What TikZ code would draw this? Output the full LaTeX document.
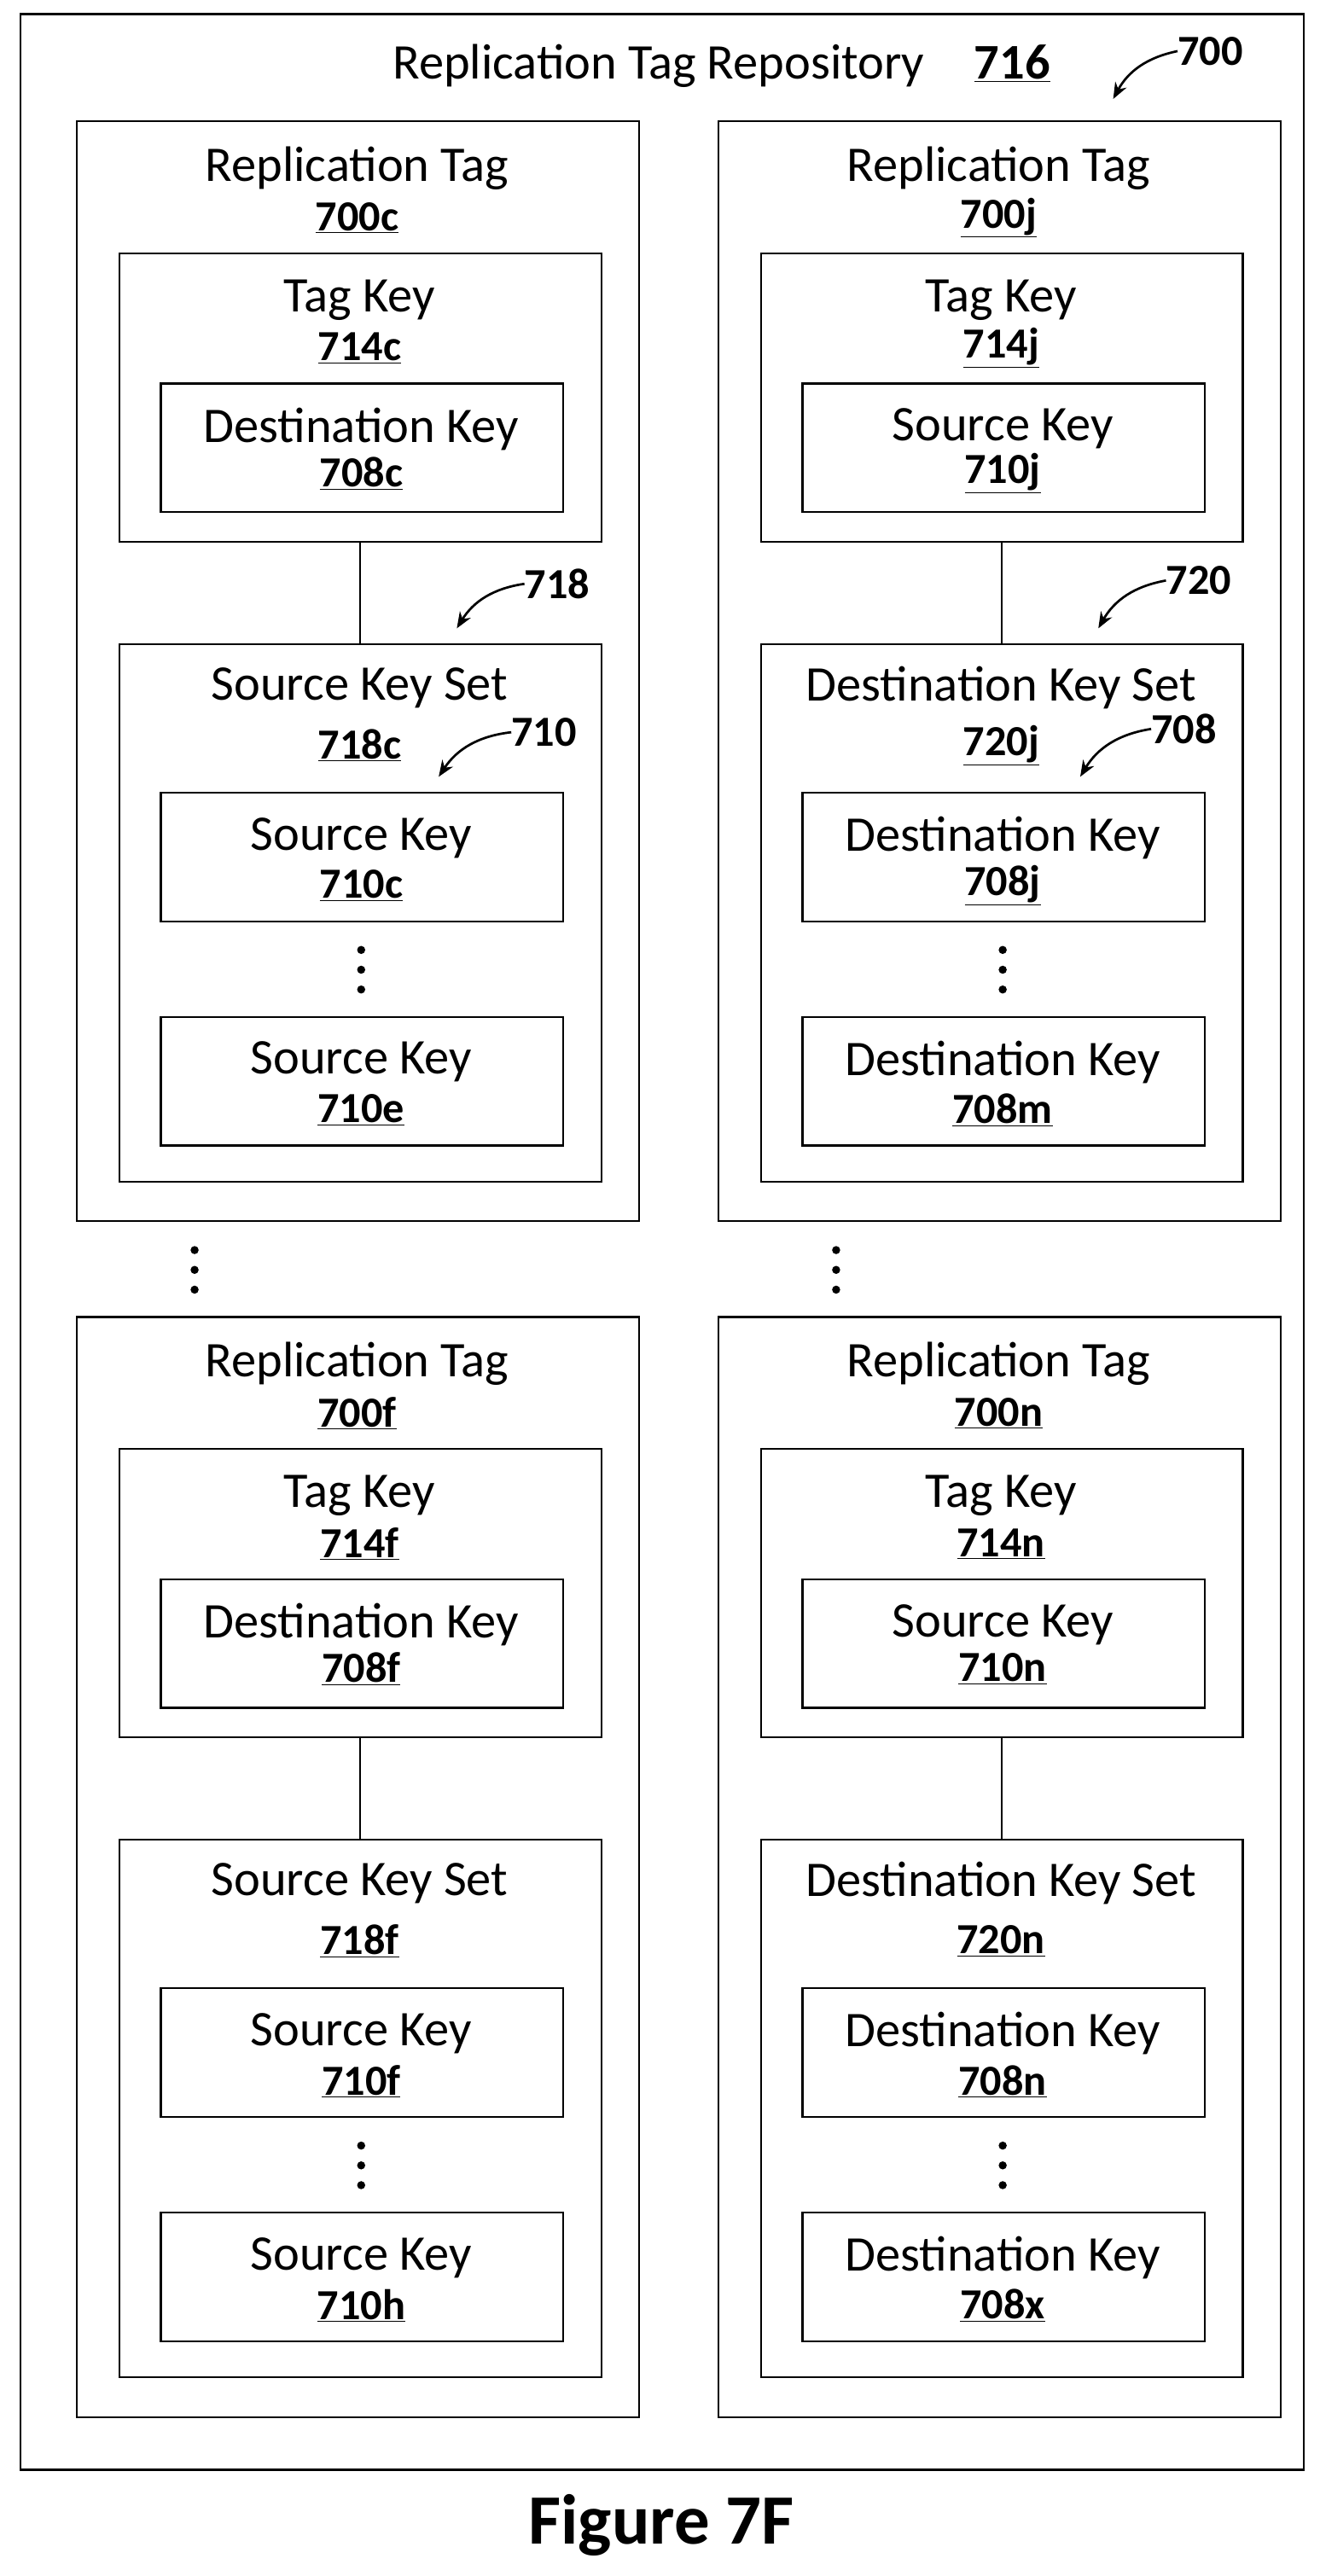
\documentclass[tikz,border=0pt]{standalone}
\usepackage{fontspec}
\setmainfont{Carlito}
\usetikzlibrary{arrows.meta}
\tikzset{
  box/.style={draw,line width=1.6pt,inner sep=0pt},
  txt/.style={font=\fontsize{43}{48}\selectfont,inner sep=0pt},
  num/.style={font=\fontsize{37}{42}\selectfont\bfseries,inner sep=0pt},
  conn/.style={line width=1.4pt},
  callout/.style={line width=2pt,-{Stealth[length=14pt,width=11pt]}},
  dot/.style={fill,circle,inner sep=0pt,minimum size=7pt}
}
\newcommand{\ul}[1]{\underline{#1}}
\newcommand{\tagcol}[9]{%
\begin{scope}[shift={(#1,#2)}]
\node[box,minimum width=341*0.05cm,minimum height=667*0.05cm,anchor=north west] (rt#3) at (46,73) {};
\node[txt] (rtt#3) at (216.5,102) {Replication Tag};
\node[num] (rtn#3) at (216.5,132) {\ul{#4}};
\node[box,minimum width=292*0.05cm,minimum height=175*0.05cm,anchor=north west] (tk#3) at (72,153) {};
\node[txt] (tkt#3) at (218,182) {Tag Key};
\node[num] (tkn#3) at (218,211) {\ul{714\csname sfx#3\endcsname}};
\node[box,minimum width=244*0.05cm,minimum height=78*0.05cm,anchor=north west] (ik#3) at (97,232) {};
\node[txt] (ikt#3) at (219,260) {#5};
\node[num] (ikn#3) at (219,287) {\ul{#6}};
\node[box,minimum width=292*0.05cm,minimum height=326*0.05cm,anchor=north west] (ks#3) at (72,390) {};
\node[txt] (kst#3) at (218,417) {#7};
\node[num] (ksn#3) at (218,452) {\ul{#8}};
\node[box,minimum width=244*0.05cm,minimum height=78*0.05cm,anchor=north west] (ka#3) at (97,480) {};
\node[txt] (kat#3) at (219,508) {#9};
\node[num] (kan#3) at (219,537) {\ul{\csname ia#3\endcsname}};
\node[dot] (da#3) at (219,576) {};
\node[dot] (db#3) at (219,588) {};
\node[dot] (dc#3) at (219,600) {};
\node[box,minimum width=244*0.05cm,minimum height=78*0.05cm,anchor=north west] (kb#3) at (97,616) {};
\node[txt] (kbt#3) at (219,644) {#9};
\node[num] (kbn#3) at (219,673) {\ul{\csname ib#3\endcsname}};
\draw[conn] (tk#3.south) -- (ks#3.north);
\end{scope}}
\def\sfxA{c}\def\iaA{710c}\def\ibA{710e}
\def\sfxB{j}\def\iaB{708j}\def\ibB{708m}
\def\sfxC{f}\def\iaC{710f}\def\ibC{710h}
\def\sfxD{n}\def\iaD{708n}\def\ibD{708x}
\begin{document}
\begin{tikzpicture}[x=0.05cm,y=-0.05cm]
\useasboundingbox (0,0) rectangle (800,1562);
\node[box,minimum width=778*0.05cm,minimum height=1489*0.05cm,anchor=north west] (repo) at (12,8) {};
\node[txt,anchor=west] (repot) at (238,40) {Replication Tag Repository\quad\textbf{\ul{716}}};
\tagcol{0}{0}{A}{700c}{Destination Key}{708c}{Source Key Set}{718c}{Source Key}
\tagcol{389}{0}{B}{700j}{Source Key}{710j}{Destination Key Set}{720j}{Destination Key}
\tagcol{0}{725}{C}{700f}{Destination Key}{708f}{Source Key Set}{718f}{Source Key}
\tagcol{389}{725}{D}{700n}{Source Key}{710n}{Destination Key Set}{720n}{Destination Key}
\foreach \xx/\nn in {118/L,507/R}{
  \node[dot] (m1\nn) at (\xx,758) {};
  \node[dot] (m2\nn) at (\xx,770) {};
  \node[dot] (m3\nn) at (\xx,782) {};
}
\node[num,anchor=west] (l700) at (714,31) {700};
\coordinate (e700) at (675,60);
\draw[callout] (l700.west) to[bend right=25] (e700);
\node[num,anchor=west] (l718) at (318,354) {718};
\coordinate (e718) at (277,381);
\draw[callout] (l718.west) to[bend right=25] (e718);
\node[num,anchor=west] (l710) at (310,444) {710};
\coordinate (e710) at (266,471);
\draw[callout] (l710.west) to[bend right=25] (e710);
\node[num,anchor=west] (l720) at (707,352) {720};
\coordinate (e720) at (666,381);
\draw[callout] (l720.west) to[bend right=25] (e720);
\node[num,anchor=west] (l708) at (698,442) {708};
\coordinate (e708) at (655,471);
\draw[callout] (l708.west) to[bend right=25] (e708);
\node[inner sep=0pt,font=\fontsize{61}{70}\selectfont\bfseries] (fig) at (401,1531) {Figure 7F};
\end{tikzpicture}
\end{document}
